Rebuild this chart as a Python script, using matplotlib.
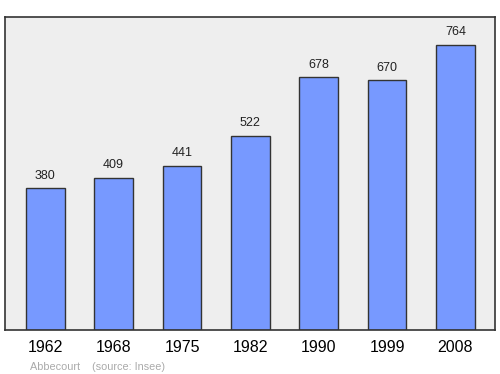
import matplotlib
matplotlib.use("Agg")
import matplotlib.pyplot as plt

plt.rcParams["font.family"] = ["Liberation Sans", "DejaVu Sans"]

years = ["1962", "1968", "1975", "1982", "1990", "1999", "2008"]
population = [380, 409, 441, 522, 678, 670, 764]

fig = plt.figure(figsize=(5, 3.74), dpi=100)
ax = fig.add_axes([0.01, 0.1176, 0.98, 0.837])
ax.set_facecolor("#eeeeee")
x = list(range(len(years)))
ax.bar(x, population, width=0.57, color="#7799ff", edgecolor="#333333", linewidth=1.0)
for xi, v in zip(x, population):
    ax.annotate(str(v), (xi, v), xytext=(0, 5), textcoords="offset points",
                ha="center", va="bottom", fontsize=9, color="#222222")
ax.set_xlim(-0.59, 6.58)
ax.set_ylim(0, max(population) * 1.1)
ax.set_yticks([])
ax.set_xticks(x)
ax.set_xticklabels(years, fontsize=11.5)
ax.tick_params(axis="x", length=0, pad=7.5)
for s in ax.spines.values():
    s.set_color("#333333")
    s.set_linewidth(1.2)
fig.text(0.06, 0.012, "Abbecourt    (source: Insee)", fontsize=7.8, color="#aaaaaa")
fig.savefig("out.png", dpi=100)
